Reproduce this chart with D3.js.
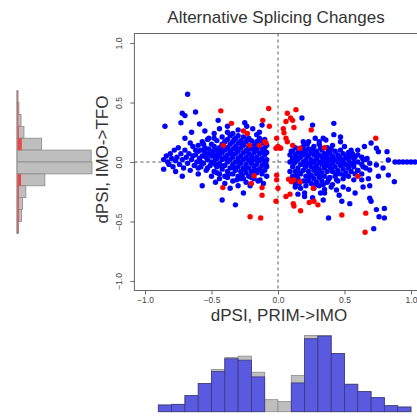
<!DOCTYPE html>
<html>
<head>
<meta charset="utf-8">
<script src="https://cdn.jsdelivr.net/npm/d3@7"></script>
<style>
  body { margin: 0; background: #fff; }
  svg { font-family: "Liberation Sans", Arial, sans-serif; }
</style>
</head>
<body>
<div id="chart"></div>
<script>
// axis ticks
var ticks = [-1.0, -0.5, 0.0, 0.5, 1.0];

// scatter points, dPSI PRIM->IMO (x) and IMO->TFO (y)
var bluePts = [
  // left tail
  [-0.86,0.02],[-0.86,-0.06],[-0.84,0.05],[-0.83,0.0],[-0.82,-0.02],[-0.81,0.07],[-0.8,0.03],[-0.79,-0.04],[-0.78,0.1],[-0.77,-0.08],
  [-0.77,0.01],[-0.76,0.04],[-0.75,0.12],[-0.74,-0.02],[-0.73,0.07],[-0.72,-0.12],[-0.72,0.02],[-0.71,-0.05],[-0.7,0.1],[-0.69,0.04],
  [-0.68,-0.01],[-0.67,0.07],[-0.66,-0.07],[-0.65,0.02],[-0.64,0.13],[-0.63,-0.03],[-0.62,0.06],[-0.61,0.0],[-0.6,-0.1],[-0.6,0.09],
  [-0.59,0.03],[-0.58,-0.04],[-0.57,0.05],[-0.56,0.15],[-0.56,-0.01],[-0.55,0.08],[-0.54,-0.07],[-0.53,0.02],[-0.52,0.11],[-0.51,-0.03],
  [-0.5,0.05],[-0.5,-0.12],[-0.6,0.14],[-0.58,0.1],[-0.57,0.17],[-0.55,0.12],[-0.54,0.04],[-0.53,0.19],[-0.52,0.07],[-0.5,0.15],
  [-0.49,0.09],[-0.48,0.2],[-0.47,0.03],[-0.46,-0.09],[-0.5,0.0],[-0.53,-0.05],[-0.58,0.0],[-0.62,0.1],[-0.64,0.05],[-0.6,-0.05],
  // left outliers
  [-0.85,0.3],[-0.73,0.33],[-0.72,0.41],[-0.7,0.39],[-0.68,0.57],[-0.62,0.42],[-0.65,0.25],[-0.59,0.32],[-0.55,0.26],[-0.45,0.35],
  [-0.44,0.28],[-0.52,0.2],[-0.48,0.24],[-0.66,0.16],[-0.7,0.2],[-0.25,0.33],[-0.235,0.3],[-0.16,0.23],[-0.3,0.27],[-0.19,0.28],
  [-0.12,0.31],[-0.38,0.3],[-0.14,0.25],
  [-0.57,-0.2],[-0.47,-0.17],[-0.42,-0.32],[-0.32,-0.36],[-0.26,-0.26],[-0.38,-0.13],[-0.31,-0.15],[-0.36,-0.22],[-0.21,-0.2],[-0.135,-0.15],
  [-0.4,-0.18],[-0.34,-0.16],[-0.28,-0.14],[-0.24,-0.17],[-0.2,-0.13],[-0.15,-0.16],[-0.11,-0.18],[-0.3,-0.2],[-0.44,-0.14],
  // left core
  [-0.48,-0.08],[-0.48,0.0],[-0.48,0.06],[-0.48,0.13],
  [-0.46,-0.04],[-0.46,0.03],[-0.46,0.1],[-0.46,0.18],
  [-0.44,-0.1],[-0.44,-0.01],[-0.44,0.05],[-0.44,0.12],
  [-0.42,-0.06],[-0.42,0.02],[-0.42,0.08],[-0.42,0.15],[-0.42,0.21],
  [-0.4,-0.12],[-0.4,-0.03],[-0.4,0.04],[-0.4,0.1],[-0.4,0.17],
  [-0.38,-0.08],[-0.38,0.0],[-0.38,0.06],[-0.38,0.12],[-0.38,0.19],[-0.38,0.25],
  [-0.36,-0.05],[-0.36,0.02],[-0.36,0.09],[-0.36,0.15],[-0.36,0.22],
  [-0.34,-0.1],[-0.34,-0.02],[-0.34,0.04],[-0.34,0.11],[-0.34,0.17],[-0.34,0.24],
  [-0.32,-0.07],[-0.32,0.0],[-0.32,0.07],[-0.32,0.13],[-0.32,0.2],
  [-0.3,-0.12],[-0.3,-0.04],[-0.3,0.03],[-0.3,0.09],[-0.3,0.16],[-0.3,0.22],
  [-0.28,-0.08],[-0.28,-0.01],[-0.28,0.05],[-0.28,0.12],[-0.28,0.18],
  [-0.26,-0.14],[-0.26,-0.05],[-0.26,0.02],[-0.26,0.08],[-0.26,0.14],[-0.26,0.21],
  [-0.24,-0.09],[-0.24,-0.02],[-0.24,0.04],[-0.24,0.1],[-0.24,0.17],
  [-0.22,-0.12],[-0.22,-0.05],[-0.22,0.01],[-0.22,0.07],[-0.22,0.13],[-0.22,0.2],
  [-0.2,-0.08],[-0.2,-0.01],[-0.2,0.05],[-0.2,0.11],[-0.2,0.18],
  [-0.18,-0.14],[-0.18,-0.04],[-0.18,0.02],[-0.18,0.08],[-0.18,0.15],
  [-0.16,-0.09],[-0.16,-0.02],[-0.16,0.04],[-0.16,0.1],[-0.16,0.17],
  [-0.14,-0.06],[-0.14,0.01],[-0.14,0.07],[-0.14,0.13],[-0.14,0.2],
  [-0.12,-0.1],[-0.12,-0.03],[-0.12,0.03],[-0.12,0.09],[-0.12,0.16],
  [-0.1,-0.07],[-0.1,0.0],[-0.1,0.06],[-0.1,0.12],[-0.1,0.19],
  [-0.085,-0.12],[-0.085,-0.04],[-0.085,0.02],[-0.085,0.08],[-0.085,0.14],
  [-0.45,0.07],[-0.43,-0.03],[-0.41,0.13],[-0.39,0.03],[-0.37,-0.1],[-0.35,0.07],[-0.33,-0.05],[-0.31,0.11],[-0.29,0.0],[-0.27,0.16],
  [-0.25,-0.06],[-0.23,0.1],[-0.21,0.02],[-0.19,-0.1],[-0.17,0.12],[-0.15,0.02],[-0.13,-0.07],[-0.11,0.1],[-0.09,-0.02],[-0.27,-0.11],
  [-0.33,0.19],[-0.23,0.19],[-0.17,-0.07],[-0.13,0.18],[-0.43,0.1],[-0.47,-0.02],
  // right core
  [0.09,-0.08],[0.09,0.0],[0.09,0.06],
  [0.11,-0.12],[0.11,-0.04],[0.11,0.03],[0.11,0.09],
  [0.13,-0.18],[0.13,-0.08],[0.13,0.0],[0.13,0.06],[0.13,0.12],
  [0.15,-0.14],[0.15,-0.05],[0.15,0.02],[0.15,0.08],
  [0.17,-0.22],[0.17,-0.1],[0.17,-0.02],[0.17,0.04],[0.17,0.1],
  [0.19,-0.16],[0.19,-0.07],[0.19,0.0],[0.19,0.06],[0.19,0.13],
  [0.21,-0.2],[0.21,-0.12],[0.21,-0.04],[0.21,0.02],[0.21,0.08],
  [0.23,-0.15],[0.23,-0.08],[0.23,-0.01],[0.23,0.05],[0.23,0.11],[0.23,0.17],
  [0.25,-0.18],[0.25,-0.11],[0.25,-0.04],[0.25,0.02],[0.25,0.08],
  [0.27,-0.22],[0.27,-0.14],[0.27,-0.07],[0.27,0.0],[0.27,0.06],[0.27,0.13],
  [0.29,-0.17],[0.29,-0.1],[0.29,-0.03],[0.29,0.03],[0.29,0.09],
  [0.31,-0.2],[0.31,-0.13],[0.31,-0.06],[0.31,0.0],[0.31,0.06],[0.31,0.15],
  [0.33,-0.16],[0.33,-0.09],[0.33,-0.02],[0.33,0.04],[0.33,0.1],
  [0.35,-0.23],[0.35,-0.12],[0.35,-0.05],[0.35,0.01],[0.35,0.07],
  [0.37,-0.17],[0.37,-0.08],[0.37,-0.01],[0.37,0.05],[0.37,0.12],
  [0.39,-0.13],[0.39,-0.04],[0.39,0.02],[0.39,0.08],
  [0.41,-0.19],[0.41,-0.08],[0.41,-0.01],[0.41,0.05],[0.41,0.14],
  [0.43,-0.12],[0.43,-0.04],[0.43,0.02],[0.43,0.09],
  [0.45,-0.16],[0.45,-0.07],[0.45,0.0],[0.45,0.06],
  [0.47,-0.1],[0.47,-0.03],[0.47,0.03],[0.47,0.1],
  [0.49,-0.14],[0.49,-0.06],[0.49,0.01],[0.49,0.07],
  [0.51,-0.09],[0.51,-0.02],[0.51,0.04],
  [0.53,-0.12],[0.53,-0.05],[0.53,0.02],[0.53,0.08],
  [0.55,-0.08],[0.55,-0.01],[0.55,0.05],
  [0.57,-0.15],[0.57,-0.04],[0.57,0.03],
  [0.6,-0.07],[0.6,0.0],[0.6,0.06],
  [0.63,-0.1],[0.63,-0.02],[0.63,0.04],
  [0.66,-0.05],[0.66,0.02],
  [0.12,-0.01],[0.14,0.04],[0.16,-0.09],[0.18,0.07],[0.2,-0.03],[0.22,0.05],[0.24,-0.12],[0.26,0.0],[0.28,-0.05],[0.3,0.06],
  [0.32,-0.12],[0.34,0.02],[0.36,-0.03],[0.38,0.09],[0.4,-0.06],[0.42,0.03],[0.44,-0.1],[0.46,0.04],[0.48,-0.02],[0.5,-0.11],
  [0.52,0.05],[0.54,-0.02],[0.56,0.07],[0.58,-0.1],[0.16,-0.18],[0.22,-0.16],[0.28,-0.19],[0.34,-0.19],[0.38,-0.15],[0.44,-0.15],
  [0.2,0.1],[0.26,0.11],[0.32,0.12],[0.4,0.11],[0.14,-0.12],[0.3,-0.08],[0.36,0.03],
  // right outliers and tail
  [0.18,0.37],[0.26,0.31],[0.42,0.325],[0.42,0.23],[0.47,0.21],[0.47,0.17],[0.36,0.185],[0.19,0.17],[0.1,0.09],[0.7,0.16],
  [0.74,0.115],[0.755,0.087],[0.82,0.087],[0.65,0.13],[0.31,0.17],[0.34,0.2],
  [0.88,0.0],[0.91,0.0],[0.94,0.0],[0.97,0.0],[1.0,0.0],[1.03,0.0],[0.83,0.017],[0.79,-0.05],[0.755,-0.12],[0.83,-0.11],
  [0.875,-0.165],[0.69,-0.067],[0.69,-0.2],[0.69,-0.305],[0.7,-0.33],[0.74,-0.4],[0.8,-0.39],[0.76,-0.46],[0.8,-0.47],[0.72,-0.56],
  [0.64,-0.21],[0.58,-0.26],[0.54,-0.35],[0.48,-0.33],[0.38,-0.47],[0.34,-0.32],[0.44,-0.235],[0.2,-0.26],[0.32,-0.26],[0.64,-0.04],
  [0.58,0.045],[0.13,-0.21],[0.2,-0.29],[0.35,-0.26],[0.4,-0.21],[0.49,-0.21],[0.53,-0.23],[0.63,-0.15],[0.68,-0.14],[0.57,-0.01],
  [0.64,0.02],[0.67,0.03],[0.6,-0.07],[0.69,-0.01],[0.74,-0.025],[0.46,-0.28],[0.26,-0.3],[0.15,-0.27],[0.1,-0.15],[0.55,0.1],
  [0.6,0.1],[0.5,0.13],[0.28,0.2],[0.22,0.15]
];

var redPts = [
  [-0.43,0.43],[-0.35,0.325],[-0.26,0.26],[-0.23,0.24],[-0.07,0.45],[-0.115,0.35],[-0.065,0.3],[-0.1,0.17],[-0.09,0.16],[-0.01,0.2],
  [-0.015,0.115],[0.0,0.13],[-0.41,0.14],[-0.215,0.14],[-0.14,0.14],[-0.18,-0.115],[-0.2,-0.18],[-0.415,-0.215],[-0.12,-0.215],[-0.12,-0.28],
  [-0.01,-0.11],[-0.01,-0.15],[-0.015,-0.33],[-0.21,-0.46],[-0.13,-0.47],[0.0,-0.22],
  [0.135,0.44],[0.07,0.41],[0.095,0.37],[0.11,0.35],[0.06,0.34],[0.04,0.28],[0.045,0.245],[0.12,0.29],[0.06,0.2],[0.07,0.17],
  [0.01,0.12],[0.02,0.115],[0.11,0.14],[0.165,0.115],[0.25,0.27],[0.35,0.12],[0.735,0.2],[0.08,-0.145],[0.1,-0.165],[0.12,-0.15],
  [0.165,-0.165],[0.265,-0.22],[0.6,-0.12],[0.09,-0.27],[0.06,-0.29],[0.115,-0.35],[0.12,-0.37],[0.235,-0.34],[0.27,-0.33],[0.3,-0.36],
  [0.17,-0.41],[0.48,-0.445],[0.66,-0.43],[0.655,-0.59]
];

// bottom histogram (dPSI PRIM->IMO), bins of 0.1
var bottomBins  = [-0.9,-0.8,-0.7,-0.6,-0.5,-0.4,-0.3,-0.2,-0.1,0.0,0.1,0.2,0.3,0.4,0.5,0.6,0.7,0.8,0.9];
var bottomTotal = [10,11,24,42,63,81,83,59,18,15,54,114,114,87,41,30,21,9,7];
var bottomBlue  = [10,11,24,42,60,79,77,52,0,0,43,109,113,87,41,30,21,9,7];

// left histogram (dPSI IMO->TFO), bins of 0.1
var leftBins  = [0.5,0.4,0.3,0.2,0.1,0.0,-0.1,-0.2,-0.3,-0.4,-0.5,-0.6];
var leftTotal = [4,7,15,26,92,277,280,104,33,21,17,6];
var leftRed   = [3,5,5,7,18,0,0,15,7,7,7,5];

var svg = d3.select("#chart").append("svg")
  .attr("width", 417)
  .attr("height", 417);

var x = d3.scaleLinear().domain([-1.08, 1.08]).range([134.4, 421.6]);
var y = d3.scaleLinear().domain([-1.08, 1.08]).range([290.5, 33.5]);

// title
svg.append("text")
  .attr("x", 276).attr("y", 23)
  .attr("text-anchor", "middle")
  .attr("font-size", 17)
  .attr("fill", "#333")
  .text("Alternative Splicing Changes");

// zero lines
svg.append("line")
  .attr("x1", x(0)).attr("x2", x(0))
  .attr("y1", y(1.08)).attr("y2", y(-1.08))
  .attr("stroke", "#555").attr("stroke-dasharray", "3,3");
svg.append("line")
  .attr("x1", x(-1.08)).attr("x2", x(1.08))
  .attr("y1", y(0)).attr("y2", y(0))
  .attr("stroke", "#555").attr("stroke-dasharray", "3,3");

// points
svg.append("g").selectAll("circle")
  .data(bluePts)
  .enter().append("circle")
  .attr("cx", function (d) { return x(d[0]); })
  .attr("cy", function (d) { return y(d[1]); })
  .attr("r", 2.7)
  .attr("fill", "#0000ff");

svg.append("g").selectAll("circle")
  .data(redPts)
  .enter().append("circle")
  .attr("cx", function (d) { return x(d[0]); })
  .attr("cy", function (d) { return y(d[1]); })
  .attr("r", 2.7)
  .attr("fill", "#ff0000");

// box
svg.append("rect")
  .attr("x", x(-1.08)).attr("y", y(1.08))
  .attr("width", x(1.08) - x(-1.08))
  .attr("height", y(-1.08) - y(1.08))
  .attr("fill", "none")
  .attr("stroke", "#666");

// x axis
var xAxis = svg.append("g")
  .attr("transform", "translate(0," + y(-1.08) + ")")
  .call(d3.axisBottom(x).tickValues(ticks).tickSize(4).tickPadding(2)
    .tickFormat(d3.format(".1f")));
xAxis.select(".domain").remove();
xAxis.selectAll("line").attr("stroke", "#666");
xAxis.selectAll("text").attr("font-size", 8.5).attr("fill", "#444")
  .attr("font-family", "Liberation Sans, Arial, sans-serif");

// y axis
var yAxis = svg.append("g")
  .attr("transform", "translate(" + x(-1.08) + ",0)")
  .call(d3.axisLeft(y).tickValues(ticks).tickSize(4).tickFormat(d3.format(".1f")));
yAxis.select(".domain").remove();
yAxis.selectAll("line").attr("stroke", "#666");
yAxis.selectAll("text")
  .attr("font-size", 8.5).attr("fill", "#444")
  .attr("font-family", "Liberation Sans, Arial, sans-serif")
  .attr("x", null).attr("dy", null)
  .attr("text-anchor", "middle")
  .attr("transform", "translate(-12,0) rotate(-90)");

// axis labels
svg.append("text")
  .attr("x", 279).attr("y", 321)
  .attr("text-anchor", "middle")
  .attr("font-size", 17).attr("fill", "#333")
  .text("dPSI, PRIM->IMO");
svg.append("text")
  .attr("transform", "translate(108," + y(0.02) + ") rotate(-90)")
  .attr("text-anchor", "middle")
  .attr("font-size", 17).attr("fill", "#333")
  .text("dPSI, IMO->TFO");

// bottom histogram
var hb = d3.scaleLinear().domain([0, 114]).range([411.7, 335.4]);
var bottom = svg.append("g");
bottom.selectAll(".tot")
  .data(bottomBins)
  .enter().append("rect")
  .attr("class", "tot")
  .attr("x", function (d) { return x(d); })
  .attr("width", function (d) { return x(d + 0.1) - x(d); })
  .attr("y", function (d, i) { return hb(bottomTotal[i]); })
  .attr("height", function (d, i) { return hb(0) - hb(bottomTotal[i]); })
  .attr("fill", "#bebebe").attr("stroke", "#8a8a8a").attr("stroke-width", 0.8);
bottom.selectAll(".blu")
  .data(bottomBins)
  .enter().append("rect")
  .attr("class", "blu")
  .attr("x", function (d) { return x(d); })
  .attr("width", function (d) { return x(d + 0.1) - x(d); })
  .attr("y", function (d, i) { return hb(bottomBlue[i]); })
  .attr("height", function (d, i) { return hb(0) - hb(bottomBlue[i]); })
  .attr("fill", "#5a5ae0").attr("stroke", "#3a3a7a").attr("stroke-width", 0.8)
  .style("display", function (d, i) { return bottomBlue[i] > 0 ? null : "none"; });

// left histogram
var hl = d3.scaleLinear().domain([0, 280]).range([17, 92]);
var left = svg.append("g");
left.selectAll(".tot")
  .data(leftBins)
  .enter().append("rect")
  .attr("class", "tot")
  .attr("x", hl(0))
  .attr("y", function (d) { return y(d + 0.1); })
  .attr("height", function (d) { return y(d) - y(d + 0.1); })
  .attr("width", function (d, i) { return hl(leftTotal[i]) - hl(0); })
  .attr("fill", "#bebebe").attr("stroke", "#8a8a8a").attr("stroke-width", 0.8);
left.selectAll(".red")
  .data(leftBins)
  .enter().append("rect")
  .attr("class", "red")
  .attr("x", hl(0))
  .attr("y", function (d) { return y(d + 0.1); })
  .attr("height", function (d) { return y(d) - y(d + 0.1); })
  .attr("width", function (d, i) { return hl(leftRed[i]) - hl(0); })
  .attr("fill", "#e84848")
  .style("display", function (d, i) { return leftRed[i] > 0 ? null : "none"; });
left.append("line")
  .attr("x1", hl(0)).attr("x2", hl(0))
  .attr("y1", y(0.6)).attr("y2", y(-0.6))
  .attr("stroke", "#999");
</script>
</body>
</html>
